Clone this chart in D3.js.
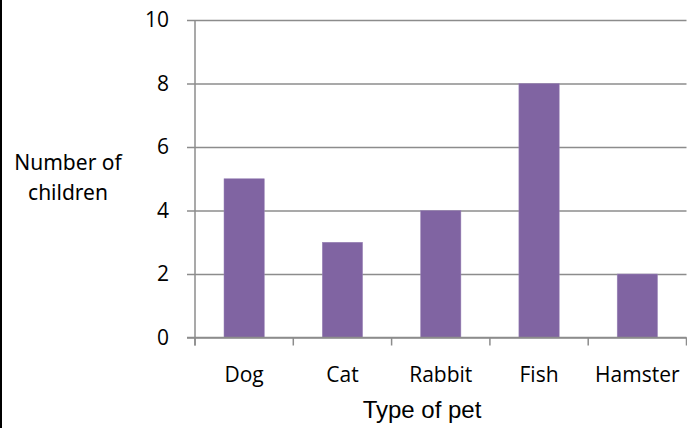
<!DOCTYPE html>
<html>
<head>
<meta charset="utf-8">
<script src="https://cdn.jsdelivr.net/npm/d3@7"></script>
<style>
  body { margin: 0; background: #fff; }
  svg { display: block; }
</style>
</head>
<body>
<div id="chart"></div>
<script>
// data
var pets = ["Dog", "Cat", "Rabbit", "Fish", "Hamster"];
var children = [5, 3, 4, 8, 2];
var yTicks = [0, 2, 4, 6, 8, 10];

var W = 687, H = 428;
var margin = { top: 20, left: 195, right: 0.5, bottom: 90.5 };
var width = W - margin.left - margin.right,
    height = H - margin.top - margin.bottom;

var svg = d3.select("#chart")
    .append("svg")
    .attr("width", W)
    .attr("height", H);

// black left border
svg.append("rect")
    .attr("x", 0).attr("y", 0)
    .attr("width", 2).attr("height", H)
    .attr("fill", "#000");

var g = svg.append("g")
    .attr("transform", "translate(" + margin.left + "," + margin.top + ")");

var x = d3.scaleBand()
    .domain(pets)
    .range([0, width])
    .paddingInner(0.59)
    .paddingOuter(0.295);

var y = d3.scaleLinear()
    .domain([0, 10])
    .range([height, 0]);

// gridlines + y ticks
var yAxis = g.append("g")
    .call(d3.axisLeft(y).tickValues(yTicks).tickSize(-width).tickSizeOuter(0).tickPadding(26))
yAxis.select(".domain").remove();
yAxis.selectAll(".tick line")
    .attr("x1", -8)
    .attr("stroke", "#8c8c8c")
    .attr("stroke-width", 1.5);
yAxis.selectAll(".tick text")
    .style("font-family", "'Open Sans', 'Noto Sans', sans-serif")
    .style("font-size", "21px")
    .attr("fill", "#000");

// bars
g.selectAll(".bar")
    .data(pets)
    .enter().append("rect")
    .attr("class", "bar")
    .attr("x", function (d) { return x(d); })
    .attr("y", function (d, i) { return y(children[i]); })
    .attr("width", x.bandwidth())
    .attr("height", function (d, i) { return y(0) - y(children[i]); })
    .attr("fill", "#8064a2")
    .attr("stroke", "#9b86b8")
    .attr("stroke-width", 0.5);

// y axis line
g.append("line")
    .attr("x1", 0).attr("x2", 0)
    .attr("y1", 0).attr("y2", height + 8)
    .attr("stroke", "#8c8c8c")
    .attr("stroke-width", 1.5);

// x axis line and ticks between categories
g.append("line")
    .attr("x1", -8).attr("x2", width)
    .attr("y1", height).attr("y2", height)
    .attr("stroke", "#8c8c8c")
    .attr("stroke-width", 1.5);

var step = x.step();
g.selectAll(".xtick")
    .data(d3.range(pets.length + 1))
    .enter().append("line")
    .attr("x1", function (d) { return d * step; })
    .attr("x2", function (d) { return d * step; })
    .attr("y1", height)
    .attr("y2", height + 8)
    .attr("stroke", "#8c8c8c")
    .attr("stroke-width", 1.5);

g.selectAll(".xlabel")
    .data(pets)
    .enter().append("text")
    .attr("x", function (d) { return x(d) + x.bandwidth() / 2; })
    .attr("y", height + 44)
    .attr("text-anchor", "middle")
    .style("font-family", "'Open Sans', 'Noto Sans', sans-serif")
    .style("font-size", "21px")
    .attr("fill", "#000")
    .text(function (d) { return d; });

// axis titles
svg.append("text")
    .attr("x", 422)
    .attr("y", 418)
    .attr("text-anchor", "middle")
    .style("font-family", "'Liberation Sans', Arial, sans-serif")
    .style("font-size", "24px")
    .attr("fill", "#000")
    .text("Type of pet");

var yTitle = svg.append("text")
    .attr("text-anchor", "middle")
    .style("font-family", "'Noto Sans', sans-serif")
    .style("font-size", "21px")
    .attr("fill", "#000");
yTitle.append("tspan").attr("x", 68).attr("y", 170).text("Number of");
yTitle.append("tspan").attr("x", 68).attr("y", 200).text("children");
</script>
</body>
</html>
